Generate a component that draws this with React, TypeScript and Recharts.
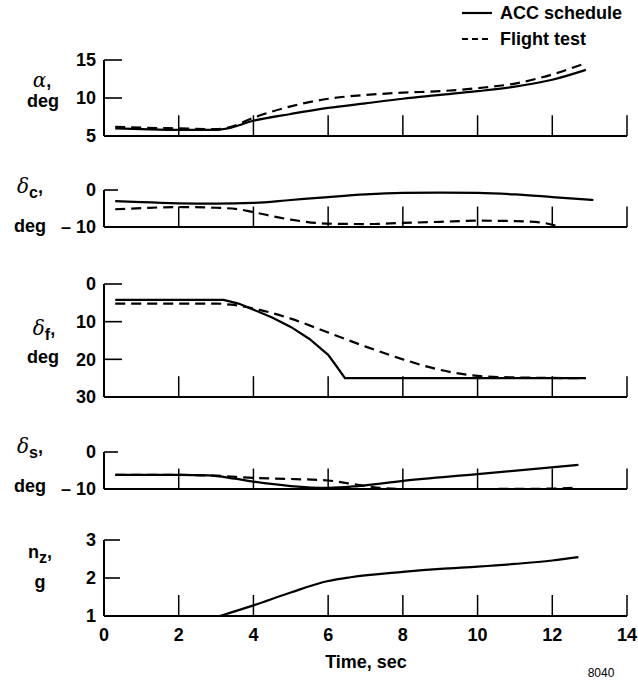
import React from 'react';
import { LineChart, Line, XAxis, YAxis, ReferenceLine } from 'recharts';

type Pt = { t: number; v: number };

const timeTicks = [0, 2, 4, 6, 8, 10, 12, 14];
const innerTimeTicks = [2, 4, 6, 8, 10, 12, 14];

// alpha, deg
const alphaTicks = [5, 10, 15];
const alphaAcc: Pt[] = [
  { t: 0.3, v: 6.0 }, { t: 1, v: 5.9 }, { t: 2, v: 5.8 }, { t: 3, v: 5.8 }, { t: 3.3, v: 6.0 },
  { t: 4, v: 7.0 }, { t: 5, v: 7.9 }, { t: 6, v: 8.7 }, { t: 7, v: 9.3 }, { t: 8, v: 9.9 },
  { t: 9, v: 10.4 }, { t: 10, v: 10.9 }, { t: 11, v: 11.5 }, { t: 12, v: 12.4 }, { t: 12.9, v: 13.7 },
];
const alphaFlight: Pt[] = [
  { t: 0.3, v: 6.2 }, { t: 1, v: 6.1 }, { t: 2, v: 6.0 }, { t: 3, v: 5.9 }, { t: 3.4, v: 6.2 },
  { t: 4, v: 7.4 }, { t: 5, v: 8.9 }, { t: 6, v: 9.9 }, { t: 7, v: 10.4 }, { t: 8, v: 10.7 },
  { t: 9, v: 10.9 }, { t: 10, v: 11.3 }, { t: 11, v: 11.9 }, { t: 12, v: 13.1 }, { t: 12.9, v: 14.6 },
];

// delta_c, deg
const deltaCTicks = [-10, 0];
const deltaCAcc: Pt[] = [
  { t: 0.3, v: -3.0 }, { t: 1, v: -3.3 }, { t: 2, v: -3.6 }, { t: 3, v: -3.7 }, { t: 4, v: -3.5 },
  { t: 5, v: -2.7 }, { t: 6, v: -1.9 }, { t: 7, v: -1.2 }, { t: 8, v: -0.8 }, { t: 9, v: -0.7 },
  { t: 10, v: -0.8 }, { t: 11, v: -1.2 }, { t: 12, v: -1.9 }, { t: 13.1, v: -2.7 },
];
const deltaCFlight: Pt[] = [
  { t: 0.3, v: -5.2 }, { t: 1, v: -4.9 }, { t: 2, v: -4.6 }, { t: 3, v: -4.8 }, { t: 3.6, v: -5.2 },
  { t: 4, v: -6.0 }, { t: 5, v: -8.0 }, { t: 6, v: -9.1 }, { t: 7, v: -9.2 }, { t: 8, v: -8.9 },
  { t: 9, v: -8.6 }, { t: 10, v: -8.3 }, { t: 11, v: -8.4 }, { t: 11.7, v: -8.8 }, { t: 12.2, v: -9.9 },
];

// delta_f, deg
const deltaFTicks = [0, 10, 20, 30];
const deltaFAcc: Pt[] = [
  { t: 0.3, v: 4.2 }, { t: 3.2, v: 4.2 }, { t: 3.6, v: 5.2 }, { t: 4, v: 6.8 }, { t: 4.5, v: 8.9 },
  { t: 5, v: 11.4 }, { t: 5.5, v: 14.6 }, { t: 6, v: 18.8 }, { t: 6.2, v: 21.5 }, { t: 6.45, v: 25 },
  { t: 12.9, v: 25 },
];
const deltaFFlight: Pt[] = [
  { t: 0.3, v: 5.2 }, { t: 3, v: 5.2 }, { t: 3.4, v: 5.5 }, { t: 4, v: 6.5 }, { t: 5, v: 9.2 },
  { t: 6, v: 12.9 }, { t: 7, v: 16.6 }, { t: 8, v: 20.0 }, { t: 9, v: 22.8 }, { t: 10, v: 24.4 },
  { t: 11, v: 24.8 }, { t: 12.9, v: 25 },
];

// delta_s, deg
const deltaSTicks = [-10, 0];
const deltaSAcc: Pt[] = [
  { t: 0.3, v: -6.2 }, { t: 2, v: -6.2 }, { t: 2.8, v: -6.3 }, { t: 3.5, v: -7.2 }, { t: 4, v: -8.0 },
  { t: 5, v: -9.2 }, { t: 6, v: -9.7 }, { t: 6.8, v: -9.2 }, { t: 8, v: -7.8 }, { t: 10, v: -6.0 },
  { t: 12.7, v: -3.5 },
];
const deltaSFlight: Pt[] = [
  { t: 0.3, v: -6.2 }, { t: 2, v: -6.2 }, { t: 3, v: -6.4 }, { t: 4, v: -7.0 }, { t: 5, v: -7.3 },
  { t: 6, v: -7.7 }, { t: 6.8, v: -8.9 }, { t: 7.5, v: -9.8 }, { t: 8, v: -10 }, { t: 10, v: -10 },
  { t: 12, v: -9.9 }, { t: 12.7, v: -9.6 },
];

// n_z, g
const nzTicks = [1, 2, 3];
const nzAcc: Pt[] = [
  { t: 3.1, v: 1.0 }, { t: 4, v: 1.28 }, { t: 5, v: 1.62 }, { t: 6, v: 1.92 }, { t: 6.6, v: 2.02 },
  { t: 8, v: 2.16 }, { t: 9, v: 2.24 }, { t: 10, v: 2.3 }, { t: 11, v: 2.37 }, { t: 12, v: 2.46 },
  { t: 12.7, v: 2.55 },
];

const FONT = '"Liberation Sans", Arial, Helvetica, sans-serif';
const axisStyle = { stroke: '#000', strokeWidth: 2 };
const tickStyle = { fill: '#000', fontSize: 18, fontWeight: 700, fontFamily: FONT };
const CHART_W = 638;
const LEFT = 104;
const RIGHT = 11;
const PLOT_W = CHART_W - LEFT - RIGHT;
const X_DOMAIN: [number, number] = [0, 14];
const X_TICK_LEN = 21;

const fmt = (v: number) => (v < 0 ? `\u2013 ${-v}` : `${v}`);

interface PanelProps {
  plotTop: number;
  plotHeight: number;
  domain: [number, number];
  ticks: number[];
  innerTicks: number[];
  innerLen: number;
  reversed?: boolean;
  solid?: Pt[];
  dashed?: Pt[];
  solidType?: 'monotone' | 'linear';
  timeLabels?: boolean;
}

function Panel(p: PanelProps) {
  const extra = p.timeLabels ? 36 : 0;
  const h = p.plotHeight + 20 + extra;
  const [lo, hi] = p.domain;
  const perPxY = (hi - lo) / p.plotHeight;
  const perPxX = (X_DOMAIN[1] - X_DOMAIN[0]) / PLOT_W;
  const bottomVal = p.reversed ? hi : lo;
  const upVal = p.reversed ? hi - perPxY * X_TICK_LEN : lo + perPxY * X_TICK_LEN;
  const tickEnd = X_DOMAIN[0] + perPxX * p.innerLen;
  return (
    <div style={{ position: 'absolute', left: 0, top: p.plotTop - 10 }}>
      <LineChart width={CHART_W} height={h} margin={{ top: 10, right: RIGHT, bottom: 10, left: 0 }}>
        <XAxis
          xAxisId="t"
          type="number"
          dataKey="t"
          domain={X_DOMAIN}
          ticks={timeTicks}
          interval={0}
          height={p.timeLabels ? extra : 1}
          tick={p.timeLabels ? tickStyle : false}
          tickLine={false}
          tickSize={0}
          tickMargin={12}
          axisLine={axisStyle}
        />
        <YAxis
          yAxisId="v"
          type="number"
          width={LEFT}
          domain={p.domain}
          ticks={p.ticks}
          interval={0}
          reversed={p.reversed}
          tick={tickStyle}
          tickFormatter={fmt}
          tickLine={false}
          tickSize={0}
          tickMargin={8}
          axisLine={axisStyle}
        />
        {innerTimeTicks.map((t) => (
          <ReferenceLine
            key={`xt${t}`}
            xAxisId="t"
            yAxisId="v"
            segment={[{ x: t, y: bottomVal }, { x: t, y: upVal }]}
            ifOverflow="visible"
            stroke="#000"
            strokeWidth={1.5}
          />
        ))}
        {p.innerTicks.map((v) => (
          <ReferenceLine
            key={`yt${v}`}
            xAxisId="t"
            yAxisId="v"
            segment={[{ x: X_DOMAIN[0], y: v }, { x: tickEnd, y: v }]}
            ifOverflow="visible"
            stroke="#000"
            strokeWidth={1.6}
          />
        ))}
        {p.solid && (
          <Line
            xAxisId="t"
            yAxisId="v"
            data={p.solid}
            dataKey="v"
            type={p.solidType || 'monotone'}
            stroke="#000"
            strokeWidth={2.2}
            dot={false}
            isAnimationActive={false}
          />
        )}
        {p.dashed && (
          <Line
            xAxisId="t"
            yAxisId="v"
            data={p.dashed}
            dataKey="v"
            type="monotone"
            stroke="#000"
            strokeWidth={2.2}
            strokeDasharray="10 6"
            dot={false}
            isAnimationActive={false}
          />
        )}
      </LineChart>
    </div>
  );
}

const labelBase: React.CSSProperties = {
  position: 'absolute',
  fontFamily: FONT,
  fontWeight: 700,
  fontSize: 18,
  color: '#000',
  lineHeight: 1,
  whiteSpace: 'nowrap',
  transform: 'translate(-50%, -50%)',
};
const greek: React.CSSProperties = { fontFamily: '"DejaVu Serif", serif', fontStyle: 'italic', fontWeight: 400, fontSize: 20 };
const sub: React.CSSProperties = { fontSize: 16, position: 'relative', top: 5 };

export default function App() {
  return (
    <div style={{ position: 'absolute', left: 0, top: 0, width: 638, height: 686, background: '#fff', overflow: 'hidden' }}>
      {/* legend */}
      <div style={{ position: 'absolute', left: 460, top: 0, fontFamily: FONT, fontWeight: 700, fontSize: 18, color: '#000' }}>
        <div style={{ display: 'flex', alignItems: 'center', height: 26 }}>
          <svg width={34} height={10}><line x1={2} y1={5} x2={32} y2={5} stroke="#000" strokeWidth={2.2} /></svg>
          <span style={{ marginLeft: 6 }}>ACC schedule</span>
        </div>
        <div style={{ display: 'flex', alignItems: 'center', height: 26 }}>
          <svg width={34} height={10}><line x1={2} y1={5} x2={32} y2={5} stroke="#000" strokeWidth={2.2} strokeDasharray="6 4" /></svg>
          <span style={{ marginLeft: 6 }}>Flight test</span>
        </div>
      </div>

      <Panel plotTop={60} plotHeight={77} domain={[5, 15]} ticks={alphaTicks} innerTicks={[10, 15]} innerLen={18} solid={alphaAcc} dashed={alphaFlight} />
      <Panel plotTop={190} plotHeight={38} domain={[-10, 0]} ticks={deltaCTicks} innerTicks={[0]} innerLen={14} solid={deltaCAcc} dashed={deltaCFlight} />
      <Panel plotTop={284} plotHeight={114} domain={[0, 30]} ticks={deltaFTicks} innerTicks={[0, 10, 20]} innerLen={18} reversed solid={deltaFAcc} solidType="linear" dashed={deltaFFlight} />
      <Panel plotTop={452} plotHeight={38} domain={[-10, 0]} ticks={deltaSTicks} innerTicks={[0]} innerLen={14} solid={deltaSAcc} dashed={deltaSFlight} />
      <Panel plotTop={540} plotHeight={76} domain={[1, 3]} ticks={nzTicks} innerTicks={[2, 3]} innerLen={16} solid={nzAcc} timeLabels />

      {/* y labels */}
      <div style={{ ...labelBase, left: 42, top: 80 }}><span style={greek}>α</span>,</div>
      <div style={{ ...labelBase, left: 43, top: 101 }}>deg</div>

      <div style={{ ...labelBase, left: 30, top: 186 }}><span style={greek}>δ</span><span style={sub}>c</span>,</div>
      <div style={{ ...labelBase, left: 30, top: 226 }}>deg</div>

      <div style={{ ...labelBase, left: 44, top: 328 }}><span style={greek}>δ</span><span style={sub}>f</span>,</div>
      <div style={{ ...labelBase, left: 43, top: 357 }}>deg</div>

      <div style={{ ...labelBase, left: 30, top: 446 }}><span style={greek}>δ</span><span style={sub}>s</span>,</div>
      <div style={{ ...labelBase, left: 30, top: 486 }}>deg</div>

      <div style={{ ...labelBase, left: 40, top: 552 }}>n<span style={sub}>z</span>,</div>
      <div style={{ ...labelBase, left: 40, top: 582 }}>g</div>

      <div style={{ ...labelBase, left: 366, top: 662 }}>Time, sec</div>
      <div style={{ ...labelBase, left: 601, top: 673, fontWeight: 400, fontSize: 12 }}>8040</div>
    </div>
  );
}
